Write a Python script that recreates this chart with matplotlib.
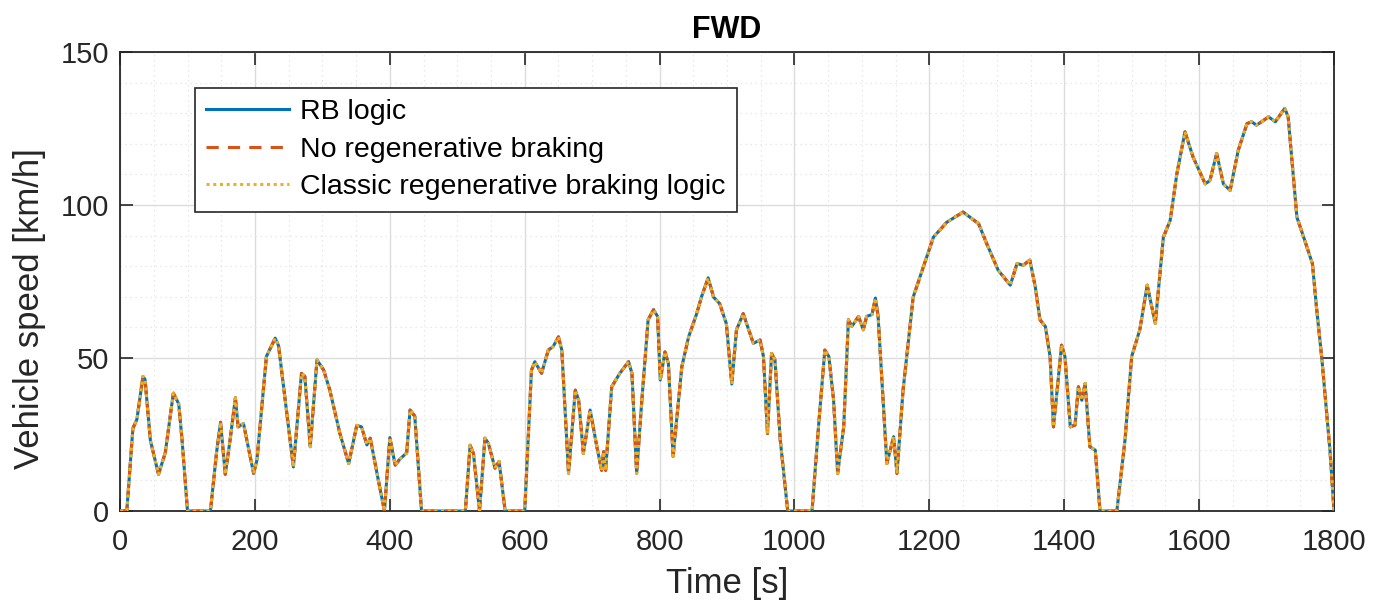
import matplotlib
matplotlib.use("Agg")
import matplotlib.pyplot as plt
from matplotlib.ticker import MultipleLocator

plt.rcParams['font.family'] = ['Liberation Sans', 'DejaVu Sans']

# Time [s]
time_s = [0, 10, 19, 25, 34, 37, 45, 57, 67, 79, 87, 92, 100, 134, 143, 149, 156, 163, 171, 175,
          183, 198, 203, 217, 230, 235, 257, 269, 274, 282, 292, 302, 311, 326, 339, 351, 358, 366, 371, 381,
          392, 400, 408, 415, 425, 430, 437, 447,
          512, 519, 524, 533, 541, 546, 556, 562, 571, 600, 610, 615, 625, 635, 642, 650, 655, 665, 675, 680,
          687, 697, 707, 714, 717, 720, 729, 741, 754, 759, 766, 773, 783, 791, 797, 801, 808, 813, 820, 833,
          843, 855, 862, 872, 880, 889, 899, 907,
          914, 924, 939, 949, 954, 960, 966, 971, 979, 990, 1026, 1036, 1045, 1051, 1058, 1064, 1073, 1080, 1085, 1095,
          1102, 1107, 1115, 1120, 1124, 1137, 1147, 1152, 1161, 1176, 1191, 1206, 1226, 1250, 1273, 1285, 1302, 1320, 1330, 1339,
          1349, 1357, 1364,
          1372, 1379, 1384, 1388, 1396, 1401, 1409, 1416, 1421, 1426, 1431, 1438, 1446, 1453, 1478, 1490, 1500, 1512, 1523, 1535,
          1547, 1557, 1567, 1579, 1591, 1609, 1616, 1626, 1636, 1646, 1658, 1671, 1678, 1685, 1703, 1713, 1727, 1732, 1745, 1755,
          1768, 1774, 1782, 1794, 1800]

# Vehicle speed [km/h] (the three strategies follow the same cycle)
speed_rb = [0, 0, 27, 30, 44, 43, 23, 12, 19, 38.5, 35, 23, 0, 0, 19, 29, 12, 23, 37, 27.5,
            28.6, 12.3, 16.7, 50.5, 56.5, 54, 14.4, 45, 44, 21, 49.4, 46, 39.5, 25.3, 15.5, 28, 27.5, 21.6, 23.8, 12.3,
            0, 24, 15, 17, 19, 33, 31, 0,
            0, 21.5, 18.8, 0, 23.8, 22.2, 14, 16.2, 0, 0, 46, 48.8, 45, 52.6, 53.7, 56.9, 52.6, 12.3, 39.5, 36.2,
            18.8, 33, 21, 13.3, 19.4, 13.3, 40.6, 45, 48.8, 45, 12.3, 34.2, 62.5, 65.8, 63.6, 42.8, 52, 48.3, 17.9, 47.2,
            56.9, 64.5, 69.9, 76.2, 69.9, 67.8, 61.2, 41.5,
            59.2, 64.5, 54.8, 55.9, 50.5, 25.3, 51.5, 49.4, 23, 0, 0, 28.6, 52.6, 50.5, 36.2, 12.3, 27.5, 62.5, 60.3, 63.6,
            59.2, 63.6, 64.2, 69.6, 63.6, 15.5, 24.3, 12.3, 39.5, 69.9, 79.7, 89.5, 94.4, 97.7, 93.9, 87.4, 78.7, 73.8, 80.9, 80.3,
            82, 73.3, 62.5,
            60.3, 50.5, 27.5, 36.2, 54.2, 50.5, 27.5, 28.1, 40.6, 36.2, 41.7, 21, 19.9, 0, 0, 23, 50.5, 59.2, 73.8, 61.3,
            89.5, 94.9, 110.2, 123.9, 115.7, 106.9, 108, 116.8, 106.9, 104.8, 117.9, 126.6, 127.2, 126.1, 128.8, 127.2, 131.6, 128.8, 96, 89.5,
            80.8, 66.6, 49.7, 19.9, 0]
speed_noregen = list(speed_rb)
speed_classic = list(speed_rb)

labels = ["RB logic", "No regenerative braking", "Classic regenerative braking logic"]
x_ticks = [0, 200, 400, 600, 800, 1000, 1200, 1400, 1600, 1800]
y_ticks = [0, 50, 100, 150]

fig = plt.figure(figsize=(13.88, 6.12), dpi=100)
ax = fig.add_axes([0.0865, 0.165, 0.8746, 0.750])

ax.plot(time_s, speed_rb, color='#0072BD', lw=2.2, ls='-', label=labels[0], zorder=3)
ax.plot(time_s, speed_noregen, color='#D95319', lw=2.2, ls=(0, (4, 3)), label=labels[1], zorder=4)
ax.plot(time_s, speed_classic, color='#EDB120', lw=2.2, ls=(0, (1, 1.2)), label=labels[2], zorder=5)

ax.set_xlim(0, 1800)
ax.set_ylim(0, 150)
ax.set_xticks(x_ticks)
ax.set_yticks(y_ticks)
ax.xaxis.set_minor_locator(MultipleLocator(50))
ax.yaxis.set_minor_locator(MultipleLocator(10))

ax.grid(True, which='major', color='#dcdcdc', lw=1.0, ls='-', zorder=0)
ax.grid(True, which='minor', color='#e3e3e3', lw=0.9, ls=(0, (1, 3)), zorder=0)
ax.set_axisbelow(True)

ax.tick_params(which='major', direction='in', length=9, width=1.2, top=True, right=True,
               labelsize=21, colors='#262626', pad=8)
ax.tick_params(axis='x', which='major', pad=12)
ax.tick_params(which='minor', length=0)
for s in ax.spines.values():
    s.set_color('#262626')
    s.set_linewidth(1.3)

ax.set_xlabel("Time [s]", fontsize=25, color='#262626', labelpad=8)
ax.set_ylabel("Vehicle speed [km/h]", fontsize=25, color='#262626')
ax.yaxis.set_label_coords(-0.061, 0.44)
ax.set_title("FWD", fontsize=22, fontweight='bold', pad=10)

leg = ax.legend(loc='upper left', bbox_to_anchor=(0.0618, 0.9216), fontsize=20.5,
                handlelength=2.9, handletextpad=0.4, labelspacing=0.4,
                borderpad=0.4, borderaxespad=0.0, fancybox=False, framealpha=1,
                edgecolor='#262626')
leg.get_frame().set_linewidth(1.2)

fig.savefig("out.png", dpi=100, facecolor='white')
